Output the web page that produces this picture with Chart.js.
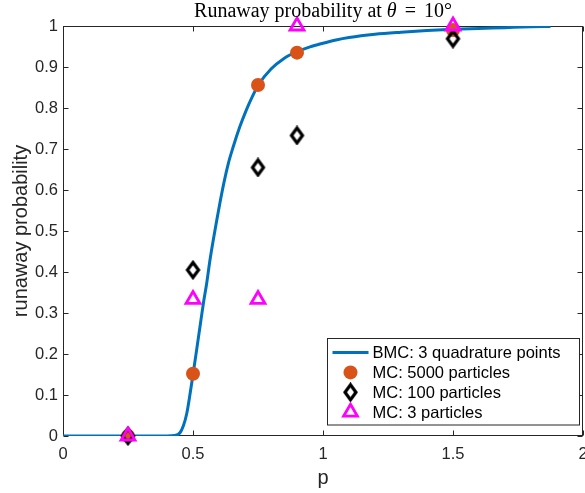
<!DOCTYPE html>
<html>
<head>
<meta charset="utf-8">
<script src="https://cdn.jsdelivr.net/npm/chart.js@4.4.1/dist/chart.umd.min.js"></script>
<style>
  html, body { margin: 0; padding: 0; background: #fff; }
</style>
</head>
<body>
<canvas id="runawayChart" width="585" height="493"></canvas>
<script>
// BMC curve (3 quadrature points)
const bmcP = [0, 0.2, 0.4, 0.43, 0.45, 0.463, 0.476, 0.488, 0.5, 0.514, 0.527, 0.54, 0.553, 0.565, 0.578,
              0.591, 0.604, 0.617, 0.636, 0.655, 0.68, 0.705, 0.73, 0.75, 0.8, 0.85, 0.9, 0.95, 1.0,
              1.05, 1.1, 1.2, 1.3, 1.4, 1.5, 1.6, 1.7, 1.8, 1.875];
const bmcY = [0, 0, 0, 0.001, 0.008, 0.025, 0.055, 0.1, 0.15, 0.21, 0.267, 0.324, 0.374, 0.428, 0.478,
              0.525, 0.57, 0.612, 0.665, 0.706, 0.754, 0.795, 0.83, 0.855, 0.895, 0.921, 0.937, 0.949, 0.958,
              0.966, 0.972, 0.98, 0.985, 0.989, 0.992, 0.994, 0.996, 0.998, 0.999];

// Monte Carlo estimates
const mcP    = [0.25, 0.5, 0.75, 0.9, 1.5];
const mc5000 = [0, 0.152, 0.856, 0.935, 0.99];
const mc100  = [0, 0.405, 0.655, 0.733, 0.969];
const mc3    = [0, 0.333, 0.333, 1, 1];

const xTicks = [0, 0.5, 1, 1.5, 2];
const yTicks = [0, 0.1, 0.2, 0.3, 0.4, 0.5, 0.6, 0.7, 0.8, 0.9, 1];

const axisColor = '#262626';
const tickFont = { family: '"Liberation Sans", Arial, sans-serif', size: 16.5 };

const pts = (xs, ys) => xs.map((x, i) => ({ x, y: ys[i] }));

// MATLAB style diamond marker (taller than wide)
function diamondMarker() {
    const c = document.createElement('canvas');
    c.width = 17; c.height = 20;
    const g = c.getContext('2d');
    g.strokeStyle = '#000';
    g.lineWidth = 3.2;
    g.lineJoin = 'miter';
    g.beginPath();
    g.moveTo(8.5, 2.5); g.lineTo(14, 10); g.lineTo(8.5, 17.5); g.lineTo(3, 10);
    g.closePath();
    g.stroke();
    return c;
}
const diamond = diamondMarker();

/* ── boxed axes with inward ticks, title, labels, legend ─────── */
const matlabBox = {
    id: 'matlabBox',
    beforeDatasetsDraw(chart) {
        const { ctx, chartArea: a, scales: { x, y } } = chart;
        const L = Math.round(a.left) + 0.5, R = Math.round(a.right) - 0.5;
        const T = Math.round(a.top) + 0.5, B = Math.round(a.bottom) - 0.5;
        ctx.save();
        ctx.strokeStyle = axisColor;
        ctx.lineWidth = 1;
        ctx.strokeRect(L, T, R - L, B - T);
        ctx.beginPath();
        xTicks.forEach(v => {
            const px = Math.round(x.getPixelForValue(v)) + 0.5;
            ctx.moveTo(px, B); ctx.lineTo(px, B - 5);
            ctx.moveTo(px, T); ctx.lineTo(px, T + 5);
        });
        yTicks.forEach(v => {
            const py = Math.round(y.getPixelForValue(v)) + 0.5;
            ctx.moveTo(L, py); ctx.lineTo(L + 5, py);
            ctx.moveTo(R, py); ctx.lineTo(R - 5, py);
        });
        ctx.stroke();
        ctx.restore();
    },
    afterDraw(chart) {
        const { ctx, chartArea: a } = chart;
        const cx = (a.left + a.right) / 2;
        ctx.save();

        // title, LaTeX-ish
        const serif = '"Liberation Serif", "Times New Roman", serif';
        const parts = [
            { t: 'Runaway probability at ', f: `20px ${serif}` },
            { t: '\u03B8', f: `italic 20px ${serif}` },
            { t: '\u2009=\u2009', f: `20px ${serif}`, pad: 4 },
            { t: '10\u00B0', f: `20px ${serif}` },
        ];
        let w = 0;
        parts.forEach(p => { ctx.font = p.f; p.w = ctx.measureText(p.t).width + (p.pad || 0) * 2; w += p.w; });
        let tx = cx - w / 2;
        ctx.fillStyle = '#000';
        ctx.textBaseline = 'alphabetic';
        ctx.textAlign = 'left';
        parts.forEach(p => { ctx.font = p.f; ctx.fillText(p.t, tx + (p.pad || 0), 17); tx += p.w; });

        // axis labels
        ctx.fillStyle = axisColor;
        ctx.font = '20px "Liberation Sans", Arial, sans-serif';
        ctx.textAlign = 'center';
        ctx.textBaseline = 'middle';
        ctx.fillText('p', cx, 478);
        ctx.translate(21, (a.top + a.bottom) / 2);
        ctx.rotate(-Math.PI / 2);
        ctx.fillText('runaway probability', 0, 0);
        ctx.restore();

        // legend inside the axes, lower right
        const ds = chart.data.datasets;
        const bx = Math.round(a.right) - 255.5, by = Math.round(a.bottom) - 97.5, bw = 252, bh = 86.5;
        ctx.save();
        ctx.fillStyle = '#fff';
        ctx.fillRect(bx, by, bw, bh);
        ctx.strokeStyle = axisColor;
        ctx.lineWidth = 1;
        ctx.strokeRect(bx, by, bw, bh);
        ctx.font = '16.5px "Liberation Sans", Arial, sans-serif';
        ctx.textBaseline = 'middle';
        ctx.textAlign = 'left';
        ds.forEach((d, i) => {
            const ry = by + 14 + i * 19.9;
            const mx = bx + 23;
            if (d.showLine) {
                ctx.strokeStyle = d.borderColor;
                ctx.lineWidth = d.borderWidth;
                ctx.beginPath();
                ctx.moveTo(bx + 5, ry); ctx.lineTo(bx + 41, ry);
                ctx.stroke();
            } else {
                ctx.fillStyle = d.backgroundColor;
                ctx.strokeStyle = d.borderColor;
                ctx.lineWidth = d.borderWidth;
                Chart.helpers.drawPoint(ctx, {
                    pointStyle: d.pointStyle, radius: d.pointRadius,
                    borderWidth: d.borderWidth, rotation: 0,
                }, mx, ry);
            }
            ctx.fillStyle = '#000';
            ctx.fillText(d.label, bx + 45, ry + 1);
        });
        ctx.restore();
    },
};

new Chart(document.getElementById('runawayChart'), {
    type: 'scatter',
    data: {
        datasets: [
            {
                label: 'BMC: 3 quadrature points',
                data: pts(bmcP, bmcY),
                showLine: true,
                borderColor: '#0072BD',
                borderWidth: 3,
                pointRadius: 0,
                cubicInterpolationMode: 'monotone',
                order: 4,
            },
            {
                label: 'MC: 5000 particles',
                data: pts(mcP, mc5000),
                pointStyle: 'circle',
                pointRadius: 7,
                backgroundColor: '#D95319',
                borderColor: '#D95319',
                borderWidth: 0,
                clip: false,
                order: 3,
            },
            {
                label: 'MC: 100 particles',
                data: pts(mcP, mc100),
                pointStyle: diamond,
                pointRadius: 7,
                backgroundColor: 'rgba(0,0,0,0)',
                borderColor: '#000',
                borderWidth: 0,
                clip: false,
                order: 2,
            },
            {
                label: 'MC: 3 particles',
                data: pts(mcP, mc3),
                pointStyle: 'triangle',
                pointRadius: 8,
                backgroundColor: 'rgba(255,255,255,0)',
                borderColor: '#FF00FF',
                borderWidth: 2.8,
                clip: false,
                order: 1,
            },
        ],
    },
    options: {
        responsive: false,
        animation: false,
        devicePixelRatio: 1,
        layout: { autoPadding: false, padding: { top: 26, right: 2, left: 0, bottom: 0 } },
        plugins: {
            legend: { display: false },
            title: { display: false },
            tooltip: { enabled: false },
        },
        scales: {
            x: {
                type: 'linear', min: 0, max: 2,
                grid: { display: false, drawTicks: false },
                border: { display: false },
                afterBuildTicks: s => { s.ticks = xTicks.map(value => ({ value })); },
                afterFit: s => { s.height = 57; s.paddingLeft = 0; s.paddingRight = 0; },
                ticks: { font: tickFont, color: axisColor, padding: 9, maxRotation: 0, callback: v => String(v) },
            },
            y: {
                type: 'linear', min: 0, max: 1,
                grid: { display: false, drawTicks: false },
                border: { display: false },
                afterBuildTicks: s => { s.ticks = yTicks.map(value => ({ value })); },
                afterFit: s => { s.width = 63; s.paddingTop = 0; s.paddingBottom = 0; },
                ticks: { font: tickFont, color: axisColor, padding: 5, callback: v => String(Math.round(v * 10) / 10) },
            },
        },
    },
    plugins: [matlabBox],
});
</script>
</body>
</html>
